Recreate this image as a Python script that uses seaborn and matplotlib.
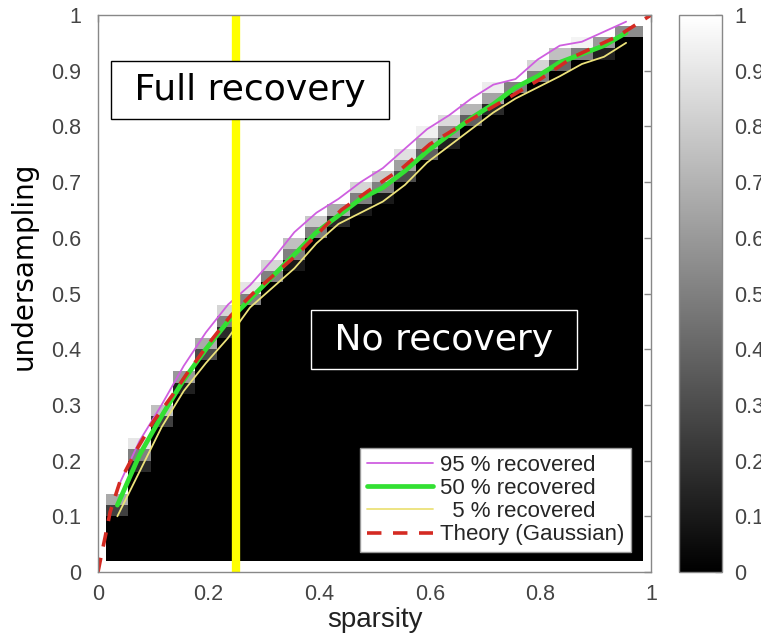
import numpy as np
import matplotlib
matplotlib.use("Agg")
import matplotlib.pyplot as plt
import seaborn as sns

# ---------------- data ----------------
# column centres of the empirical phase-transition grid (sparsity)
sparsity = [0.035, 0.075, 0.115, 0.155, 0.195, 0.235, 0.275, 0.315, 0.355, 0.395,
            0.435, 0.475, 0.515, 0.555, 0.595, 0.635, 0.675, 0.715, 0.755, 0.795,
            0.835, 0.875, 0.915, 0.955]
# row centres of the grid (undersampling)
undersampling_rows = np.round(np.arange(0.03, 1.0, 0.02), 2)

# undersampling level at which a given fraction of trials is recovered
level_05 = [0.10, 0.18, 0.26, 0.325, 0.375, 0.42, 0.475, 0.51, 0.545, 0.59,
            0.625, 0.645, 0.665, 0.695, 0.735, 0.765, 0.795, 0.825, 0.85, 0.87,
            0.89, 0.912, 0.925, 0.95]
level_50 = [0.12, 0.21, 0.28, 0.345, 0.40, 0.45, 0.49, 0.53, 0.57, 0.61,
            0.64, 0.67, 0.69, 0.72, 0.755, 0.785, 0.815, 0.84, 0.87, 0.89,
            0.915, 0.93, 0.945, 0.968]
level_95 = [0.15, 0.235, 0.30, 0.37, 0.43, 0.48, 0.515, 0.56, 0.61, 0.645,
            0.67, 0.70, 0.725, 0.76, 0.795, 0.82, 0.85, 0.875, 0.885, 0.92,
            0.945, 0.952, 0.97, 0.988]

# theoretical (Gaussian) transition curve
theory_x = [0, 0.005, 0.013, 0.022, 0.04, 0.07, 0.1, 0.135, 0.16, 0.2, 0.24, 0.28,
            0.32, 0.36, 0.4, 0.44, 0.49, 0.55, 0.6, 0.67, 0.74, 0.8, 0.86, 0.94, 1.0]
theory_y = [0, 0.025, 0.063, 0.108, 0.163, 0.22, 0.27, 0.318, 0.355, 0.41, 0.46, 0.5,
            0.535, 0.57, 0.61, 0.65, 0.685, 0.725, 0.768, 0.81, 0.85, 0.885, 0.925,
            0.962, 1.0]

marker_sparsity = 0.25

xticks = [0, 0.2, 0.4, 0.6, 0.8, 1]
xtick_labels = ["0", "0.2", "0.4", "0.6", "0.8", "1"]
yticks = [0, 0.1, 0.2, 0.3, 0.4, 0.5, 0.6, 0.7, 0.8, 0.9, 1]
ytick_labels = ["0", "0.1", "0.2", "0.3", "0.4", "0.5", "0.6", "0.7", "0.8", "0.9", "1"]
legend_labels = ["95 % recovered", "50 % recovered", "  5 % recovered", "Theory (Gaussian)"]

# ---------------- style ----------------
sns.set_theme(style="white")
plt.rcParams["font.family"] = ["Liberation Sans", "DejaVu Sans"]

W, H = 761, 637
fig = plt.figure(figsize=(W / 100, H / 100), dpi=100)
ax = fig.add_axes([98 / W, 65 / H, 553 / W, 557 / H])
cax = fig.add_axes([679 / W, 65 / H, 43 / W, 557 / H])

# ---------------- recovery-probability grid ----------------
grid = np.array([np.interp(undersampling_rows, [a, b, c], [0.0, 0.5, 1.0])
                 for a, b, c in zip(level_05, level_50, level_95)]).T
xs = np.array(sparsity)
x_edges = np.concatenate([[0.015], (xs[:-1] + xs[1:]) / 2, [0.985]])
ys = np.array(undersampling_rows)
y_edges = np.concatenate([[0.02], (ys[:-1] + ys[1:]) / 2, [1.0]])
mesh = ax.pcolormesh(x_edges, y_edges, grid, cmap="gray", vmin=0, vmax=1, zorder=1)

# ---------------- curves ----------------
sns.lineplot(x=sparsity, y=level_95, ax=ax, color="#cf5fe0", lw=1.3,
             label=legend_labels[0], zorder=3)
sns.lineplot(x=sparsity, y=level_50, ax=ax, color="#33e033", lw=3.4,
             label=legend_labels[1], zorder=3)
sns.lineplot(x=sparsity, y=level_05, ax=ax, color="#ece27a", lw=1.3,
             label=legend_labels[2], zorder=3)
sns.lineplot(x=theory_x, y=theory_y, ax=ax, color="#d42a22", lw=2.6,
             label=legend_labels[3], zorder=4)
ax.lines[-1].set_dashes([4, 3.2])

ax.axvline(marker_sparsity, color="#ffff00", lw=6, zorder=5)

# ---------------- annotations ----------------
ax.text(0.275, 0.865, " Full recovery ", fontsize=26, family="DejaVu Sans",
        ha="center", va="center", color="black", zorder=7,
        bbox=dict(boxstyle="square,pad=0.34", fc="white", ec="black", lw=1))
ax.text(0.626, 0.417, " No recovery ", fontsize=26, family="DejaVu Sans",
        ha="center", va="center", color="white", zorder=7,
        bbox=dict(boxstyle="square,pad=0.34", fc="black", ec="white", lw=1))

leg = ax.legend(loc="lower right", fontsize=16, frameon=True, fancybox=False,
                framealpha=1, edgecolor="#999999", borderaxespad=0.9,
                handlelength=3.0, handletextpad=0.3, labelspacing=0.1,
                borderpad=0.3)
leg.get_frame().set_linewidth(1)
leg.set_zorder(10)

# ---------------- axes ----------------
ax.set_xlim(0, 1)
ax.set_ylim(0, 1)
ax.set_xticks(xticks)
ax.set_xticklabels(xtick_labels)
ax.set_yticks(yticks)
ax.set_yticklabels(ytick_labels)
ax.tick_params(direction="in", length=5, width=1, top=True, right=True,
               color="#888888", labelcolor="#444444", labelsize=15.5)
ax.tick_params(axis="x", pad=9)
ax.tick_params(axis="y", pad=12)
for s in ax.spines.values():
    s.set_color("#888888")
    s.set_linewidth(1)
    s.set_zorder(8)

ax.set_xlabel("sparsity", fontsize=20, color="#222222", labelpad=1)
ax.set_ylabel("undersampling", fontsize=20, family="DejaVu Sans", color="black")
ax.yaxis.set_label_coords(-0.1085, 0.55)

# ---------------- colorbar ----------------
cb = fig.colorbar(mesh, cax=cax, ticks=yticks)
cb.ax.set_yticklabels(ytick_labels)
cb.ax.tick_params(direction="in", length=5, width=1, color="#888888",
                  labelcolor="#444444", labelsize=15.5, pad=9)
cb.outline.set_edgecolor("#888888")
cb.outline.set_linewidth(1)

fig.savefig("out.png", dpi=100)
